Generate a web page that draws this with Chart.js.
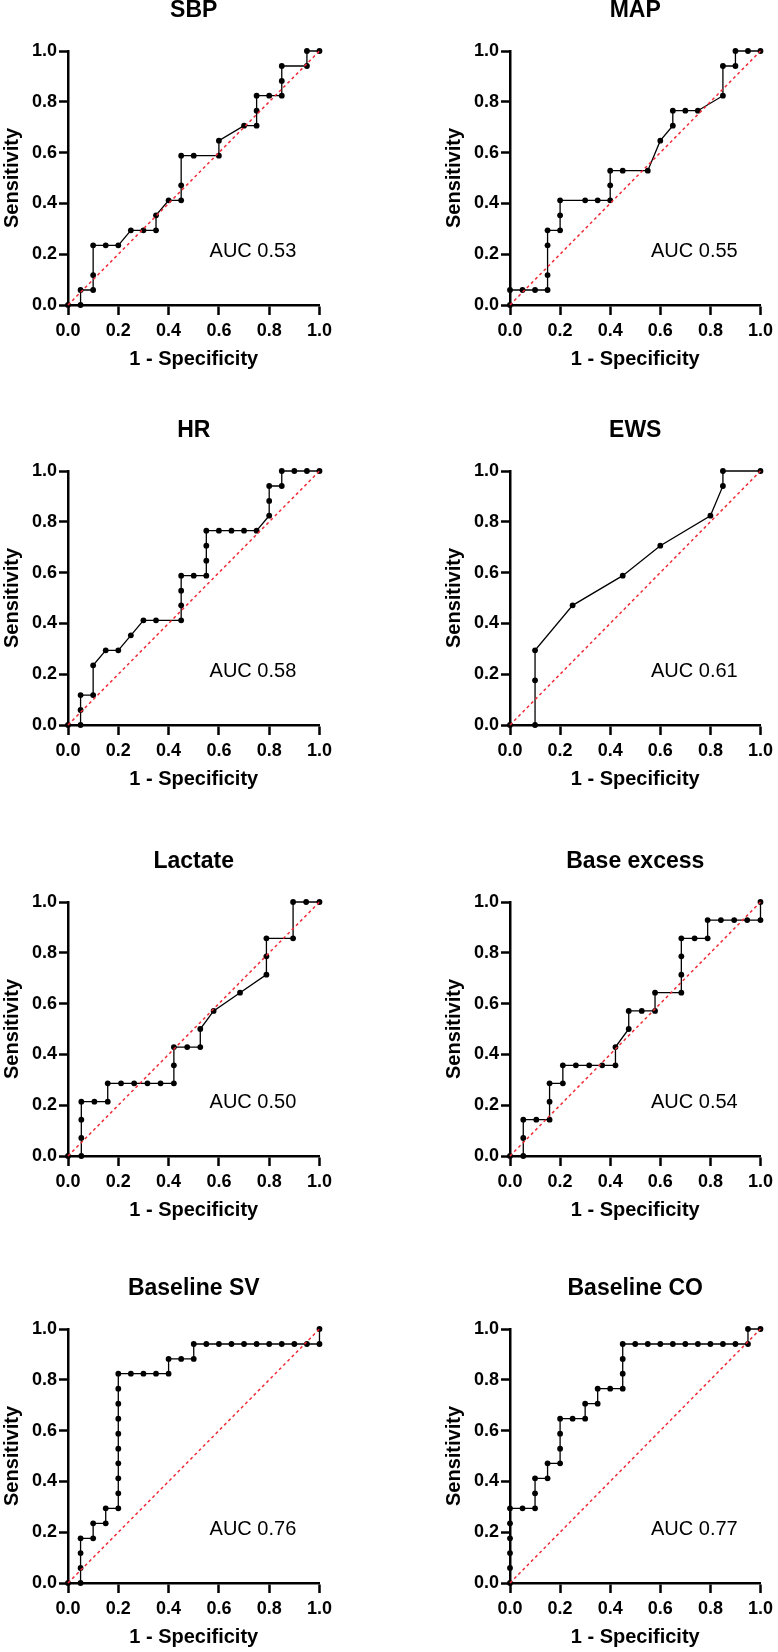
<!DOCTYPE html>
<html>
<head>
<meta charset="utf-8">
<script src="https://cdn.jsdelivr.net/npm/chart.js@4.4.1/dist/chart.umd.min.js"></script>
<style>
  html, body { margin: 0; padding: 0; background: #fff; }
  body { width: 778px; height: 1652px; position: relative; overflow: hidden; }
  canvas { position: absolute; }
</style>
</head>
<body>
<script>
const tickLabels = ['0.0', '0.2', '0.4', '0.6', '0.8', '1.0'];
const panelTitles = ['SBP', 'MAP', 'HR', 'EWS', 'Lactate', 'Base excess', 'Baseline SV', 'Baseline CO'];
const aucLabels = ['AUC 0.53', 'AUC 0.55', 'AUC 0.58', 'AUC 0.61', 'AUC 0.50', 'AUC 0.54', 'AUC 0.76', 'AUC 0.77'];

// 1 - specificity / sensitivity pairs
const sbpFpr = [0, 0.05, 0.05, 0.1, 0.1, 0.1, 0.15, 0.2, 0.25, 0.3, 0.35, 0.35, 0.4, 0.45, 0.45, 0.45, 0.5, 0.6, 0.6, 0.7, 0.75, 0.75, 0.75, 0.8, 0.85, 0.85, 0.85, 0.95, 0.95, 1.0];
const sbpSens = [0, 0, 0.059, 0.059, 0.118, 0.235, 0.235, 0.235, 0.294, 0.294, 0.294, 0.353, 0.412, 0.412, 0.471, 0.588, 0.588, 0.588, 0.647, 0.706, 0.706, 0.765, 0.824, 0.824, 0.824, 0.882, 0.941, 0.941, 1.0, 1.0];

const mapFpr = [0, 0, 0.05, 0.1, 0.15, 0.15, 0.15, 0.15, 0.2, 0.2, 0.2, 0.3, 0.35, 0.4, 0.4, 0.4, 0.45, 0.55, 0.6, 0.65, 0.65, 0.7, 0.75, 0.85, 0.85, 0.9, 0.9, 0.95, 1.0];
const mapSens = [0, 0.059, 0.059, 0.059, 0.059, 0.118, 0.235, 0.294, 0.294, 0.353, 0.412, 0.412, 0.412, 0.412, 0.471, 0.529, 0.529, 0.529, 0.647, 0.706, 0.765, 0.765, 0.765, 0.824, 0.941, 0.941, 1.0, 1.0, 1.0];

const hrFpr = [0, 0.05, 0.05, 0.05, 0.1, 0.1, 0.15, 0.2, 0.25, 0.3, 0.35, 0.45, 0.45, 0.45, 0.45, 0.5, 0.55, 0.55, 0.55, 0.55, 0.6, 0.65, 0.7, 0.75, 0.8, 0.8, 0.8, 0.85, 0.85, 0.9, 0.95, 1.0];
const hrSens = [0, 0, 0.059, 0.118, 0.118, 0.235, 0.294, 0.294, 0.353, 0.412, 0.412, 0.412, 0.471, 0.529, 0.588, 0.588, 0.588, 0.647, 0.706, 0.765, 0.765, 0.765, 0.765, 0.765, 0.824, 0.882, 0.941, 0.941, 1.0, 1.0, 1.0, 1.0];

const ewsFpr = [0, 0.1, 0.1, 0.1, 0.25, 0.45, 0.6, 0.8, 0.85, 0.85, 1.0];
const ewsSens = [0, 0, 0.176, 0.294, 0.471, 0.588, 0.706, 0.824, 0.941, 1.0, 1.0];

const lactateFpr = [0, 0.053, 0.053, 0.053, 0.053, 0.105, 0.158, 0.158, 0.211, 0.263, 0.316, 0.368, 0.421, 0.421, 0.421, 0.474, 0.526, 0.526, 0.579, 0.684, 0.789, 0.789, 0.789, 0.895, 0.895, 0.947, 1.0];
const lactateSens = [0, 0, 0.071, 0.143, 0.214, 0.214, 0.214, 0.286, 0.286, 0.286, 0.286, 0.286, 0.286, 0.357, 0.429, 0.429, 0.429, 0.5, 0.571, 0.643, 0.714, 0.786, 0.857, 0.857, 1.0, 1.0, 1.0];

const beFpr = [0, 0.053, 0.053, 0.053, 0.105, 0.158, 0.158, 0.158, 0.211, 0.211, 0.263, 0.316, 0.368, 0.421, 0.421, 0.474, 0.474, 0.526, 0.579, 0.579, 0.684, 0.684, 0.684, 0.684, 0.737, 0.789, 0.789, 0.842, 0.895, 0.947, 1.0, 1.0];
const beSens = [0, 0, 0.071, 0.143, 0.143, 0.143, 0.214, 0.286, 0.286, 0.357, 0.357, 0.357, 0.357, 0.357, 0.429, 0.5, 0.571, 0.571, 0.571, 0.643, 0.643, 0.714, 0.786, 0.857, 0.857, 0.857, 0.929, 0.929, 0.929, 0.929, 0.929, 1.0];

const svFpr = [0, 0.05, 0.05, 0.05, 0.05, 0.1, 0.1, 0.15, 0.15,
  0.2, 0.2, 0.2, 0.2, 0.2, 0.2, 0.2, 0.2, 0.2, 0.2,
  0.25, 0.3, 0.35, 0.4, 0.4, 0.45, 0.5, 0.5,
  0.55, 0.6, 0.65, 0.7, 0.75, 0.8, 0.85, 0.9, 0.95, 1.0, 1.0];
const svSens = [0, 0, 0.059, 0.118, 0.176, 0.176, 0.235, 0.235, 0.294,
  0.294, 0.353, 0.412, 0.471, 0.529, 0.588, 0.647, 0.706, 0.765, 0.824,
  0.824, 0.824, 0.824, 0.824, 0.882, 0.882, 0.882, 0.941,
  0.941, 0.941, 0.941, 0.941, 0.941, 0.941, 0.941, 0.941, 0.941, 0.941, 1.0];

const coFpr = [0, 0, 0, 0, 0, 0, 0.05, 0.1, 0.1, 0.1, 0.15, 0.15, 0.2, 0.2, 0.2, 0.2, 0.25, 0.3, 0.3, 0.35, 0.35, 0.4,
  0.45, 0.45, 0.45, 0.45, 0.5, 0.55, 0.6, 0.65, 0.7, 0.75, 0.8, 0.85, 0.9, 0.95, 0.95, 1.0];
const coSens = [0, 0.059, 0.118, 0.176, 0.235, 0.294, 0.294, 0.294, 0.353, 0.412, 0.412, 0.471, 0.471, 0.529, 0.588, 0.647, 0.647, 0.647, 0.706, 0.706, 0.765, 0.765,
  0.765, 0.824, 0.882, 0.941, 0.941, 0.941, 0.941, 0.941, 0.941, 0.941, 0.941, 0.941, 0.941, 0.941, 1.0, 1.0];

const fprSeries = [sbpFpr, mapFpr, hrFpr, ewsFpr, lactateFpr, beFpr, svFpr, coFpr];
const sensSeries = [sbpSens, mapSens, hrSens, ewsSens, lactateSens, beSens, svSens, coSens];
const refLine = [0, 1];

// layout
const FONT = '"Liberation Sans", Arial, Helvetica, sans-serif';
const rowPlotTops = [51.3, 471, 902.3, 1328.7];
const colLefts = [0, 441.7];
const colPadRight = [16, 13];
const plotWidths = [253, 255];
const TITLE_H = 54, PLOT_H = 254, XAXIS_H = 66, YAXIS_W = 68;

Chart.defaults.font.family = FONT;
Chart.defaults.color = '#000';

// panel title centred over the plot area, AUC note inside it
const panelText = {
    id: 'panelText',
    afterDatasetsDraw(chart, args, opts) {
        const { ctx, chartArea, scales: { x, y } } = chart;
        ctx.save();
        ctx.fillStyle = '#000';
        ctx.textBaseline = 'middle';
        ctx.font = 'bold 23px ' + FONT;
        ctx.textAlign = 'center';
        ctx.fillText(opts.title, (chartArea.left + chartArea.right) / 2, chartArea.top - 40);
        ctx.font = '20px ' + FONT;
        ctx.textAlign = 'left';
        ctx.fillText(opts.auc, x.getPixelForValue(0.563), y.getPixelForValue(0.21));
        ctx.restore();
    }
};

function axisOptions(titleText, isX) {
    return {
        type: 'linear',
        min: 0,
        max: 1,
        ticks: {
            stepSize: 0.2,
            autoSkip: false,
            maxRotation: 0,
            padding: isX ? 5 : 2,
            color: '#000',
            font: { size: 18, weight: 'bold' },
            callback: (v, i) => tickLabels[i]
        },
        grid: { drawOnChartArea: false, tickLength: isX ? 10 : 9, tickWidth: 2.5, color: '#000' },
        border: { color: '#000', width: 2.5 },
        title: {
            display: true,
            text: titleText,
            color: '#000',
            font: { size: 20, weight: 'bold' },
            padding: 0
        },
        afterFit: s => {
            if (isX) s.height = XAXIS_H; else s.width = YAXIS_W;
        }
    };
}

for (let i = 0; i < 8; i++) {
    const row = Math.floor(i / 2), col = i % 2;
    const canvas = document.createElement('canvas');
    const w = YAXIS_W + plotWidths[col] + colPadRight[col];
    const h = TITLE_H + PLOT_H + XAXIS_H;
    canvas.width = w;
    canvas.height = h;
    canvas.style.left = colLefts[col] + 'px';
    canvas.style.top = (rowPlotTops[row] - TITLE_H) + 'px';
    document.body.appendChild(canvas);

    const points = fprSeries[i].map((x, k) => ({ x: x, y: sensSeries[i][k] }));

    new Chart(canvas, {
        type: 'scatter',
        data: {
            datasets: [
                {
                    data: refLine.map(v => ({ x: v, y: v })),
                    showLine: true,
                    borderColor: '#ee2b36',
                    borderWidth: 1.5,
                    borderDash: [3, 3],
                    pointRadius: 0,
                    clip: false
                },
                {
                    data: points,
                    showLine: true,
                    borderColor: '#000',
                    borderWidth: 1.3,
                    pointRadius: 2.9,
                    pointBackgroundColor: '#000',
                    pointBorderWidth: 0,
                    clip: false
                }
            ]
        },
        options: {
            responsive: false,
            animation: false,
            events: [],
            layout: { padding: { left: 0, right: colPadRight[col], top: TITLE_H, bottom: 0 } },
            plugins: {
                legend: { display: false },
                tooltip: { enabled: false },
                panelText: { title: panelTitles[i], auc: aucLabels[i] }
            },
            scales: {
                x: axisOptions('1 - Specificity', true),
                y: axisOptions('Sensitivity', false)
            }
        },
        plugins: [panelText]
    });
}
</script>
</body>
</html>
